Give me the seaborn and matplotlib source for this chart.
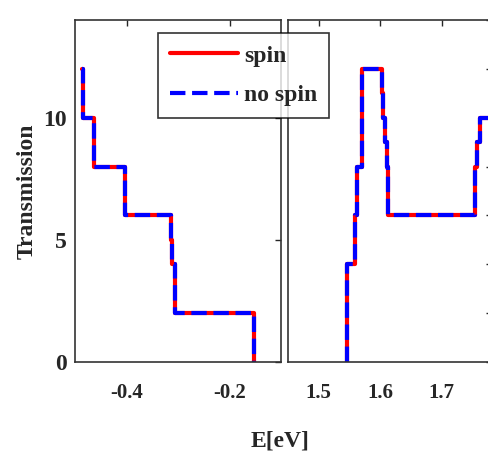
import pandas as pd
import seaborn as sns
import matplotlib.pyplot as plt

sns.set_style("white")
plt.rcParams['font.family'] = ['Liberation Serif', 'DejaVu Serif']
plt.rcParams['font.weight'] = 'bold'
plt.rcParams['axes.labelweight'] = 'bold'
plt.rcParams['axes.unicode_minus'] = False

# 좌측 구간 (valence side)
E_left = [-0.486, -0.484, -0.464, -0.402, -0.314, -0.311, -0.306, -0.153]
T_left_spin = [12, 10, 8, 6, 5, 4, 2, 0]
T_left_nospin = [12, 10, 8, 6, 5, 4, 2, 0]

# 우측 구간 (conduction side)
E_right = [1.5455, 1.5455, 1.559, 1.562, 1.5698, 1.6024, 1.6045, 1.608,
           1.6105, 1.612, 1.613, 1.754, 1.757, 1.762, 1.80]
T_right_spin = [0, 4, 6, 8, 12, 11, 10, 9, 8, 7, 6, 8, 9, 10, 10]
T_right_nospin = [0, 4, 6, 8, 12, 11, 10, 9, 8, 7, 6, 8, 9, 10, 10]

labels = ["spin", "no spin"]


def make_df(E, t_spin, t_nospin):
    return pd.concat([
        pd.DataFrame({"E": E, "T": t_spin, "kind": labels[0]}),
        pd.DataFrame({"E": E, "T": t_nospin, "kind": labels[1]}),
    ], ignore_index=True)


df_left = make_df(E_left, T_left_spin, T_left_nospin)
df_right = make_df(E_right, T_right_spin, T_right_nospin)

fig = plt.figure(figsize=(4.89, 4.55), dpi=100)
ax1 = fig.add_axes([0.1534, 0.2044, 0.4213, 0.7516])
ax2 = fig.add_axes([0.589, 0.2044, 0.417, 0.7516])

pal = {"spin": "red", "no spin": "blue"}
dsh = {"spin": "", "no spin": (3.7, 1.6)}
for ax, d in [(ax1, df_left), (ax2, df_right)]:
    sns.lineplot(data=d, x="E", y="T", hue="kind", style="kind",
                 palette=pal, dashes=dsh, sort=False, estimator=None,
                 drawstyle="steps-post", lw=3, ax=ax, legend=False)
    ax.set_xlabel("")
    ax.set_ylabel("")
    ax.set_ylim(0, 14)
    ax.tick_params(direction="in", top=True, right=True, length=4, width=1)
    ax.tick_params(axis="x", labelsize=15, pad=15)
    ax.tick_params(axis="y", labelsize=17, pad=6)
    for s in ax.spines.values():
        s.set_linewidth(1.2)
        s.set_color("#333333")

ax1.set_xlim(-0.5, -0.1)
ax1.set_xticks([-0.4, -0.2])
ax1.set_yticks([0, 5, 10])
ax1.set_ylabel("Transmission", fontsize=17, labelpad=4)

ax2.set_xlim(1.45, 1.782)
ax2.set_xticks([1.5, 1.6, 1.7])
ax2.set_yticks(range(0, 15, 2))
ax2.set_yticklabels([])

fig.text(0.573, 0.018, "E[eV]", ha="center", fontsize=17, fontweight="bold")

handles = [plt.Line2D([], [], color="red", lw=3),
           plt.Line2D([], [], color="blue", lw=3, ls=(0, (3.7, 1.6)))]
leg = fig.legend(handles, labels, loc="upper left",
                 bbox_to_anchor=(0.323, 0.927), borderaxespad=0,
                 fontsize=17, frameon=True, fancybox=False,
                 edgecolor="black", handlelength=2.9, handletextpad=0.25,
                 labelspacing=0.75, borderpad=0.5)
leg.get_frame().set_linewidth(1.2)

fig.savefig("out.png", dpi=100)
